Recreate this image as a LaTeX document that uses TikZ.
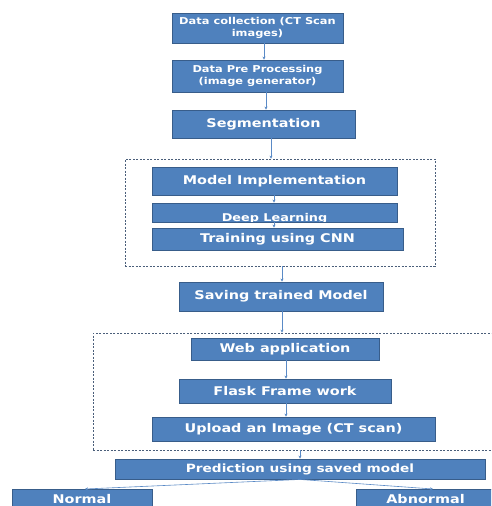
\documentclass[tikz,border=0pt]{standalone}
\usepackage{fontspec}
\newfontfamily\bfont{DejaVu Sans}[FakeStretch=1.2]
\usetikzlibrary{arrows.meta}
\definecolor{boxfill}{HTML}{4F81BD}
\definecolor{boxedge}{HTML}{385D8A}
\definecolor{arrcol}{HTML}{5A8AC6}
\definecolor{dashcol}{HTML}{4A5E7A}
\begin{document}
\begin{tikzpicture}[x=1pt,y=-1pt,
  box/.style={draw=boxedge, fill=boxfill, line width=0.9pt, text=white,
    inner sep=0pt, align=center, font=\bfont\bfseries\fontsize{12}{14}\selectfont},
  small/.style={font=\bfont\bfseries\fontsize{9.5}{12}\selectfont},
  cutbox/.style={box, anchor=north, inner xsep=0pt, inner ysep=4pt, text height=10pt, text depth=3pt},
  group/.style={draw=dashcol, line width=0.7pt, dash pattern=on 2pt off 1.5pt},
  arr/.style={draw=arrcol, line width=0.6pt, -{Stealth[length=3pt,width=3pt]}}]
\useasboundingbox (0,0) rectangle (491,506);
\clip (0,0) rectangle (491,506);
\fill[white] (0,0) rectangle (491,506);

% dashed groups
\node[group, minimum width=310pt, minimum height=107pt] (g1) at (280,212.5) {};
\node[group, minimum width=404pt, minimum height=117pt] (g2) at (295,391.5) {};

\node[box, small, minimum width=171pt, minimum height=30pt] (n1) at (257.5,28) {Data collection (CT Scan\\images)};
\node[box, small, minimum width=171pt, minimum height=32pt] (n2) at (257.5,76) {Data Pre Processing\\(image generator)};
\node[box, minimum width=183pt, minimum height=28pt] (n3) at (263.5,124) {Segmentation};

\node[box, minimum width=245pt, minimum height=28pt] (n4) at (274.5,181) {Model Implementation};
\node[box, minimum width=245pt, minimum height=19pt,
  path picture={\node[text=white, font=\bfont\bfseries\fontsize{10.7}{12}\selectfont, anchor=base]
    at ([yshift=0.8pt]path picture bounding box.south) {Deep Learning};}] (n5) at (274.5,212.5) {};
\node[box, minimum width=251pt, minimum height=22pt] (n6) at (277.5,239) {Training using CNN};

\node[box, minimum width=204pt, minimum height=29pt] (n7) at (281,296.5) {Saving trained Model};

\node[box, minimum width=188pt, minimum height=22pt] (n8) at (285,349) {Web application};
\node[box, minimum width=212pt, minimum height=24pt] (n9) at (285,391) {Flask Frame work};
\node[box, minimum width=283pt, minimum height=24pt] (n10) at (293.5,429) {Upload an Image (CT scan)};

\node[box, minimum width=370pt, minimum height=20pt, font=\bfont\bfseries\fontsize{11.4}{13}\selectfont] (n11) at (300,469) {Prediction using saved model};
\node[cutbox, minimum width=140pt] (n12) at (82,489) {Normal};
\node[cutbox, minimum width=139pt] (n13) at (425.5,489) {Abnormal};

% connectors
\draw[arr] ([xshift=6.5pt]n1.south) -- ([xshift=6.5pt]n2.north);
\draw[arr] ([xshift=8.5pt]n2.south) -- ([xshift=2.5pt]n3.north);
\draw[arr] ([xshift=7.5pt]n3.south) -- ([xshift=-9pt]g1.north);
\draw[arr] ([xshift=-0.5pt]n4.south) -- ([xshift=-0.5pt]n5.north);
\draw[arr] ([xshift=-0.5pt]n5.south) -- ([xshift=-3.5pt]n6.north);
\draw[arr] ([xshift=2pt]g1.south) -- ([xshift=1pt]n7.north);
\draw[arr] ([xshift=1pt]n7.south) -- ([xshift=-13pt]g2.north);
\draw[arr] ([xshift=1pt]n8.south) -- ([xshift=1pt]n9.north);
\draw[arr] ([xshift=1pt]n9.south) -- ([xshift=-7.5pt]n10.north);
\draw[arr] ([xshift=5pt]g2.south) -- (n11.north);
\draw[arr] (n11.south) -- ([xshift=3pt]n12.north);
\draw[arr] (n11.south) -- ([xshift=7.5pt]n13.north);
\end{tikzpicture}
\end{document}
